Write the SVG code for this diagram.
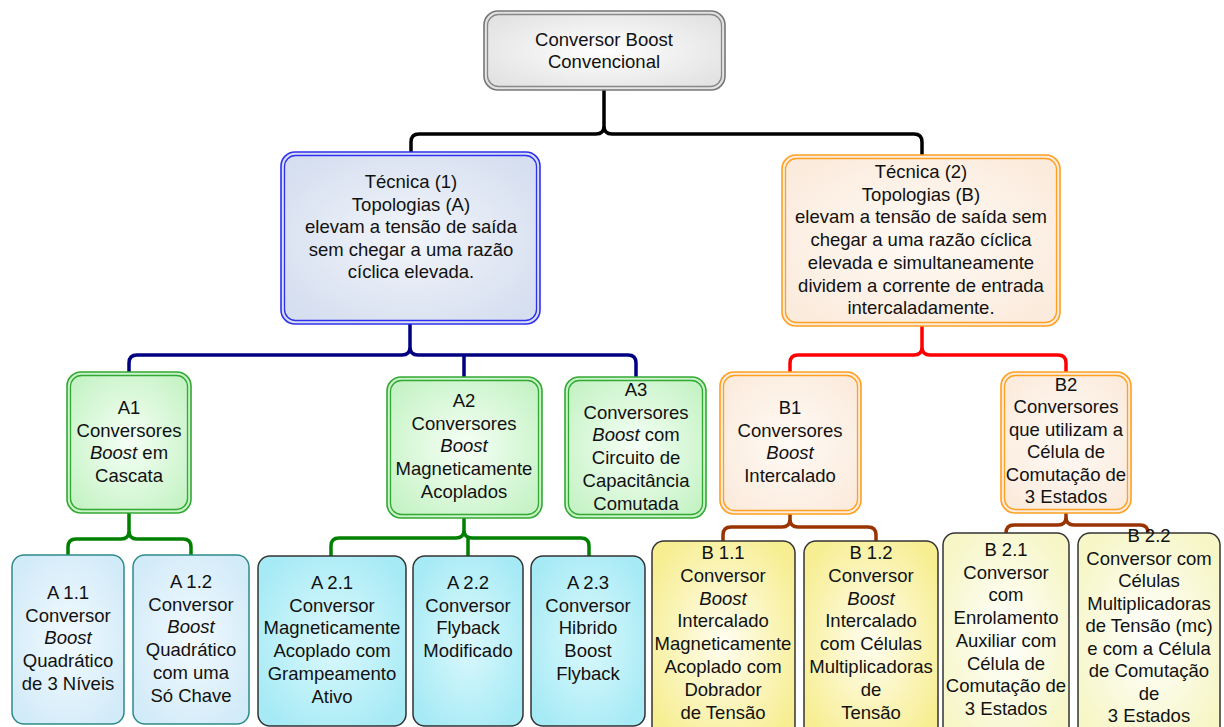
<svg xmlns="http://www.w3.org/2000/svg" width="1224" height="727" viewBox="0 0 1224 727">
<defs>
<radialGradient id="gTop" cx="50%" cy="50%" r="60%"><stop offset="0" stop-color="#ffffff"/><stop offset="1" stop-color="#e2e2e2"/></radialGradient>
<radialGradient id="gBlue" cx="50%" cy="50%" r="60%"><stop offset="0" stop-color="#f2f5fa"/><stop offset="1" stop-color="#d6dff0"/></radialGradient>
<radialGradient id="gOrange" cx="50%" cy="50%" r="60%"><stop offset="0" stop-color="#fffaf5"/><stop offset="1" stop-color="#fbebdd"/></radialGradient>
<radialGradient id="gGreen" cx="50%" cy="50%" r="60%"><stop offset="0" stop-color="#f6fff6"/><stop offset="1" stop-color="#c6f3c6"/></radialGradient>
<radialGradient id="gLightBlue" cx="50%" cy="50%" r="60%"><stop offset="0" stop-color="#f2faff"/><stop offset="1" stop-color="#d2ebf8"/></radialGradient>
<radialGradient id="gCyan" cx="50%" cy="50%" r="60%"><stop offset="0" stop-color="#dcf9fd"/><stop offset="1" stop-color="#a6eaf5"/></radialGradient>
<radialGradient id="gYellow" cx="50%" cy="50%" r="60%"><stop offset="0" stop-color="#fffdf0"/><stop offset="1" stop-color="#f7ee92"/></radialGradient>
<radialGradient id="gPale" cx="50%" cy="50%" r="60%"><stop offset="0" stop-color="#ffffff"/><stop offset="1" stop-color="#f6f6c6"/></radialGradient>
</defs>
<style>
text{font-family:"Liberation Sans",Arial,sans-serif;font-size:18.5px;fill:#111;text-anchor:middle}
.it{font-style:italic}
.conn path{fill:none;stroke-width:3.5;stroke-linecap:round;stroke-linejoin:round}
.blk{stroke:#000}
.navy{stroke:#000080}
.red{stroke:#ff0000}
.brown{stroke:#993300}
.green{stroke:#008000}
.o{stroke-width:1.6}
.i{stroke-width:1.3;fill:none}
</style>

<g class="conn" id="connectors">
<path class="blk" d="M604 90 V126 Q604 134 596 134 H419 Q411 134 411 142 V152 M604 126 Q604 134 612 134 H914 Q922 134 922 142 V155"/>
<path class="navy" d="M410 324 V347 Q410 355 402 355 H137 Q129 355 129 363 V372 M410 347 Q410 355 418 355 H628 Q636 355 636 363 V377 M464 355 V377"/>
<path class="red" d="M922 326 V347 Q922 355 914 355 H798 Q790 355 790 363 V372 M922 347 Q922 355 930 355 H1058 Q1066 355 1066 363 V372"/>
<path class="green" d="M129 513 V531 Q129 539 121 539 H76 Q68 539 68 547 V555 M129 531 Q129 539 137 539 H183 Q191 539 191 547 V555"/>
<path class="green" d="M464 518 V530 Q464 538 456 538 H339 Q331 538 331 546 V556 M464 530 Q464 538 472 538 H581 Q589 538 589 546 V556 M468 538 V556"/>
<path class="brown" d="M790 514 V519 Q790 527 782 527 H731 Q723 527 723 535 V541 M790 519 Q790 527 798 527 H868 Q876 527 876 535 V541"/>
<path class="brown" d="M1066 513 V517 Q1066 525 1058 525 H1014 Q1006 525 1006 533 V541 M1066 517 Q1066 525 1074 525 H1140 Q1148 525 1148 533 V541"/>
</g>

<g id="n-top">
<rect x="484" y="11" width="241" height="79" rx="14" fill="url(#gTop)" stroke="#777" class="o"/>
<rect x="487.5" y="14.5" width="234" height="72" rx="11" stroke="#888" class="i"/>
<text x="604" y="46">Conversor Boost<tspan x="604" dy="22">Convencional</tspan></text>
</g>

<g id="n-t1">
<rect x="281" y="152" width="259" height="172" rx="14" fill="url(#gBlue)" stroke="#3030f0" class="o"/>
<rect x="284.5" y="155.5" width="252" height="165" rx="11" stroke="#3030f0" class="i"/>
<text x="411" y="188">Técnica (1)<tspan x="411" dy="22.6">Topologias (A)</tspan><tspan x="411" dy="22.6">elevam a tensão de saída</tspan><tspan x="411" dy="22.6">sem chegar a uma razão</tspan><tspan x="411" dy="22.6">cíclica elevada.</tspan></text>
</g>

<g id="n-t2">
<rect x="782" y="155" width="278" height="171" rx="14" fill="url(#gOrange)" stroke="#ffa020" class="o"/>
<rect x="785.5" y="158.5" width="271" height="164" rx="11" stroke="#ffa020" class="i"/>
<text x="921" y="178">Técnica (2)<tspan x="921" dy="22.7">Topologias (B)</tspan><tspan x="921" dy="22.7">elevam a tensão de saída sem</tspan><tspan x="921" dy="22.7">chegar a uma razão cíclica</tspan><tspan x="921" dy="22.7">elevada e simultaneamente</tspan><tspan x="921" dy="22.7">dividem a corrente de entrada</tspan><tspan x="921" dy="22.7">intercaladamente.</tspan></text>
</g>

<g id="n-a1">
<rect x="67" y="372" width="124" height="141" rx="14" fill="url(#gGreen)" stroke="#33a833" class="o"/>
<rect x="70.5" y="375.5" width="117" height="134" rx="11" stroke="#33a833" class="i"/>
<text x="129" y="414">A1<tspan x="129" dy="22.7">Conversores</tspan><tspan x="129" dy="22.7"><tspan class="it">Boost</tspan> em</tspan><tspan x="129" dy="22.7">Cascata</tspan></text>
</g>

<g id="n-a2">
<rect x="387" y="377" width="155" height="141" rx="14" fill="url(#gGreen)" stroke="#33a833" class="o"/>
<rect x="390.5" y="380.5" width="148" height="134" rx="11" stroke="#33a833" class="i"/>
<text x="464" y="407">A2<tspan x="464" dy="22.7">Conversores</tspan><tspan x="464" dy="22.7" class="it">Boost</tspan><tspan x="464" dy="22.7">Magneticamente</tspan><tspan x="464" dy="22.7">Acoplados</tspan></text>
</g>

<g id="n-a3">
<rect x="565" y="377" width="141" height="141" rx="14" fill="url(#gGreen)" stroke="#33a833" class="o"/>
<rect x="568.5" y="380.5" width="134" height="134" rx="11" stroke="#33a833" class="i"/>
<text x="636" y="396">A3<tspan x="636" dy="22.7">Conversores</tspan><tspan x="636" dy="22.7"><tspan class="it">Boost</tspan> com</tspan><tspan x="636" dy="22.7">Circuito de</tspan><tspan x="636" dy="22.7">Capacitância</tspan><tspan x="636" dy="22.7">Comutada</tspan></text>
</g>

<g id="n-b1">
<rect x="720" y="372" width="141" height="142" rx="14" fill="url(#gOrange)" stroke="#ffa020" class="o"/>
<rect x="723.5" y="375.5" width="134" height="135" rx="11" stroke="#ffa020" class="i"/>
<text x="790" y="414">B1<tspan x="790" dy="22.7">Conversores</tspan><tspan x="790" dy="22.7" class="it">Boost</tspan><tspan x="790" dy="22.7">Intercalado</tspan></text>
</g>

<g id="n-b2">
<rect x="1001" y="372" width="130" height="141" rx="14" fill="url(#gOrange)" stroke="#ffa020" class="o"/>
<rect x="1004.5" y="375.5" width="123" height="134" rx="11" stroke="#ffa020" class="i"/>
<text x="1066" y="391">B2<tspan x="1066" dy="22.4">Conversores</tspan><tspan x="1066" dy="22.4">que utilizam  a</tspan><tspan x="1066" dy="22.4">Célula de</tspan><tspan x="1066" dy="22.4">Comutação de</tspan><tspan x="1066" dy="22.4">3 Estados</tspan></text>
</g>

<g id="n-a11">
<rect x="12" y="555" width="112" height="169" rx="12" fill="url(#gLightBlue)" stroke="#2e8b8b" stroke-width="1.5"/>
<text x="68" y="599">A 1.1<tspan x="68" dy="22.7">Conversor</tspan><tspan x="68" dy="22.7" class="it">Boost</tspan><tspan x="68" dy="22.7">Quadrático</tspan><tspan x="68" dy="22.7">de 3 Níveis</tspan></text>
</g>

<g id="n-a12">
<rect x="133" y="555" width="116" height="169" rx="12" fill="url(#gLightBlue)" stroke="#2e8b8b" stroke-width="1.5"/>
<text x="191" y="588">A 1.2<tspan x="191" dy="22.7">Conversor</tspan><tspan x="191" dy="22.7" class="it">Boost</tspan><tspan x="191" dy="22.7">Quadrático</tspan><tspan x="191" dy="22.7">com uma</tspan><tspan x="191" dy="22.7">Só Chave</tspan></text>
</g>

<g id="n-a21">
<rect x="258" y="556" width="148" height="170" rx="12" fill="url(#gCyan)" stroke="#333" stroke-width="1.5"/>
<text x="332" y="589">A 2.1<tspan x="332" dy="22.7">Conversor</tspan><tspan x="332" dy="22.7">Magneticamente</tspan><tspan x="332" dy="22.7">Acoplado  com</tspan><tspan x="332" dy="22.7">Grampeamento</tspan><tspan x="332" dy="22.7">Ativo</tspan></text>
</g>

<g id="n-a22">
<rect x="413" y="556" width="110" height="170" rx="12" fill="url(#gCyan)" stroke="#333" stroke-width="1.5"/>
<text x="468" y="589">A 2.2<tspan x="468" dy="22.7">Conversor</tspan><tspan x="468" dy="22.7">Flyback</tspan><tspan x="468" dy="22.7">Modificado</tspan></text>
</g>

<g id="n-a23">
<rect x="531" y="556" width="114" height="170" rx="12" fill="url(#gCyan)" stroke="#333" stroke-width="1.5"/>
<text x="588" y="589">A 2.3<tspan x="588" dy="22.7">Conversor</tspan><tspan x="588" dy="22.7">Hibrido</tspan><tspan x="588" dy="22.7">Boost</tspan><tspan x="588" dy="22.7">Flyback</tspan></text>
</g>

<g id="n-b11">
<rect x="652" y="541" width="143" height="200" rx="12" fill="url(#gYellow)" stroke="#333" stroke-width="1.5"/>
<text x="723" y="559">B 1.1<tspan x="723" dy="22.8">Conversor</tspan><tspan x="723" dy="22.8" class="it">Boost</tspan><tspan x="723" dy="22.8">Intercalado</tspan><tspan x="723" dy="22.8">Magneticamente</tspan><tspan x="723" dy="22.8">Acoplado com</tspan><tspan x="723" dy="22.8">Dobrador</tspan><tspan x="723" dy="22.8">de Tensão</tspan></text>
</g>

<g id="n-b12">
<rect x="804" y="541" width="134" height="200" rx="12" fill="url(#gYellow)" stroke="#333" stroke-width="1.5"/>
<text x="871" y="559">B 1.2<tspan x="871" dy="22.8">Conversor</tspan><tspan x="871" dy="22.8" class="it">Boost</tspan><tspan x="871" dy="22.8">Intercalado</tspan><tspan x="871" dy="22.8">com Células</tspan><tspan x="871" dy="22.8">Multiplicadoras</tspan><tspan x="871" dy="22.8">de</tspan><tspan x="871" dy="22.8">Tensão</tspan></text>
</g>

<g id="n-b21">
<rect x="943" y="533" width="126" height="208" rx="12" fill="url(#gPale)" stroke="#333" stroke-width="1.5"/>
<text x="1006" y="556">B 2.1<tspan x="1006" dy="22.7">Conversor</tspan><tspan x="1006" dy="22.7">com</tspan><tspan x="1006" dy="22.7">Enrolamento</tspan><tspan x="1006" dy="22.7">Auxiliar com</tspan><tspan x="1006" dy="22.7">Célula de</tspan><tspan x="1006" dy="22.7">Comutação de</tspan><tspan x="1006" dy="22.7">3 Estados</tspan></text>
</g>

<g id="n-b22">
<rect x="1078" y="533" width="142" height="208" rx="12" fill="url(#gPale)" stroke="#333" stroke-width="1.5"/>
<text x="1149" y="542">B 2.2<tspan x="1149" dy="22.5">Conversor com</tspan><tspan x="1149" dy="22.5">Células</tspan><tspan x="1149" dy="22.5">Multiplicadoras</tspan><tspan x="1149" dy="22.5">de Tensão  (mc)</tspan><tspan x="1149" dy="22.5">e com a Célula</tspan><tspan x="1149" dy="22.5">de Comutação</tspan><tspan x="1149" dy="22.5">de</tspan><tspan x="1149" dy="22.5">3 Estados</tspan></text>
</g>
</svg>
